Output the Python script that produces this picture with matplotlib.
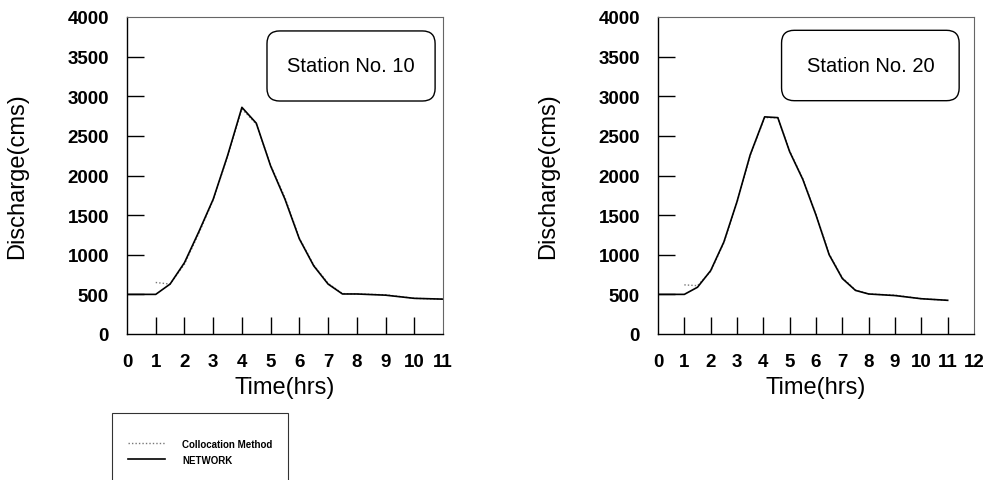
import numpy as np
import matplotlib
matplotlib.use("Agg")
import matplotlib.pyplot as plt
from matplotlib.patches import FancyBboxPatch

plt.rcParams['font.family'] = ['Liberation Sans', 'DejaVu Sans']

# station 10 hydrograph
t10 = [0, 1, 1.5, 2, 2.5, 3, 3.5, 4, 4.5, 5, 5.5, 6, 6.5, 7, 7.5, 8, 9, 10, 11]
net10 = [500, 500, 630, 900, 1290, 1700, 2250, 2860, 2660, 2120, 1700, 1200, 860, 630, 505, 505, 490, 450, 440]
t10_col = [1, 1.5, 2, 2.5, 3, 3.5, 4, 4.5, 5, 5.5, 6, 6.5, 7, 7.5, 8, 9, 10, 11]
col10 = [650, 630, 880, 1270, 1690, 2240, 2840, 2650, 2130, 1720, 1210, 870, 640, 510, 505, 495, 450, 440]

# station 20 hydrograph
t20 = [0, 1, 1.5, 2, 2.5, 3, 3.5, 4.05, 4.55, 5, 5.5, 6, 6.5, 7, 7.5, 8, 9, 10, 11]
net20 = [500, 500, 590, 800, 1160, 1670, 2260, 2740, 2730, 2300, 1950, 1500, 1000, 700, 550, 505, 485, 445, 425]
t20_col = [1, 1.5, 2, 2.5, 3, 3.5, 4.05, 4.55, 5, 5.5, 6, 6.5, 7, 7.5, 8, 9, 10, 11]
col20 = [620, 610, 790, 1150, 1660, 2250, 2730, 2730, 2310, 1960, 1510, 1010, 710, 555, 505, 490, 445, 425]

W, H = 991, 481
fig = plt.figure(figsize=(W / 100, H / 100), dpi=100)


def make_panel(rect, t, net, tc, col, xmax, station, box):
    ax = fig.add_axes(rect)
    lc, = ax.plot(tc, col, color='#777777', lw=1.0, ls=(0, (1, 1.5)))
    ln, = ax.plot(t, net, color='black', lw=1.2)
    ax.set_xlim(0, xmax)
    ax.set_ylim(0, 4000)
    ax.set_xticks(range(0, xmax + 1))
    ax.set_yticks(range(0, 4001, 500))
    ax.tick_params(axis='both', direction='in', length=12, width=1.0,
                   labelsize=13.5, top=False, right=False)
    ax.tick_params(axis='x', pad=14)
    ax.tick_params(axis='y', pad=13)
    for lab in ax.get_xticklabels() + ax.get_yticklabels():
        lab.set_fontweight('bold')
    # no tick marks at the axis ends
    for tk in [ax.xaxis.get_major_ticks()[0], ax.xaxis.get_major_ticks()[-1],
               ax.yaxis.get_major_ticks()[0], ax.yaxis.get_major_ticks()[-1]]:
        tk.tick1line.set_visible(False)
    ax.set_xlabel('Time(hrs)', fontsize=17, labelpad=4)
    ax.set_ylabel('Discharge(cms)', fontsize=17, labelpad=28)
    for s in ['top', 'right']:
        ax.spines[s].set_color('#666666')
        ax.spines[s].set_linewidth(0.8)
    for s in ['left', 'bottom']:
        ax.spines[s].set_linewidth(1.0)
    x0, y0, x1, y1 = box
    patch = FancyBboxPatch((x0, y0), x1 - x0, y1 - y0,
                           boxstyle='round,pad=0,rounding_size=0.04',
                           transform=ax.transAxes, facecolor='white',
                           edgecolor='black', lw=1.0)
    ax.add_patch(patch)
    ax.text((x0 + x1) / 2, (y0 + y1) / 2, station, transform=ax.transAxes,
            ha='center', va='center', fontsize=14.5)
    return ax, lc, ln


ax1, lc, ln = make_panel([127 / W, 1 - 335 / H, 316 / W, 317 / H],
                         t10, net10, t10_col, col10, 11, 'Station No. 10',
                         (0.443, 0.735, 0.975, 0.956))
ax2, _, _ = make_panel([658 / W, 1 - 335 / H, 316 / W, 317 / H],
                       t20, net20, t20_col, col20, 12, 'Station No. 20',
                       (0.391, 0.736, 0.953, 0.958))

leg = fig.legend([lc, ln], ['Collocation Method', 'NETWORK'],
                 loc='upper left', bbox_to_anchor=(112 / W, 1 - 414 / H),
                 bbox_transform=fig.transFigure,
                 prop={'weight': 'bold', 'size': 7},
                 title=' ', title_fontsize=3,
                 frameon=True, fancybox=False, borderpad=1.65,
                 labelspacing=0.6, handlelength=3.8, handletextpad=1.75,
                 borderaxespad=0)
leg.get_frame().set_edgecolor('black')
leg.get_frame().set_linewidth(0.8)

fig.savefig('out.png', dpi=100)
